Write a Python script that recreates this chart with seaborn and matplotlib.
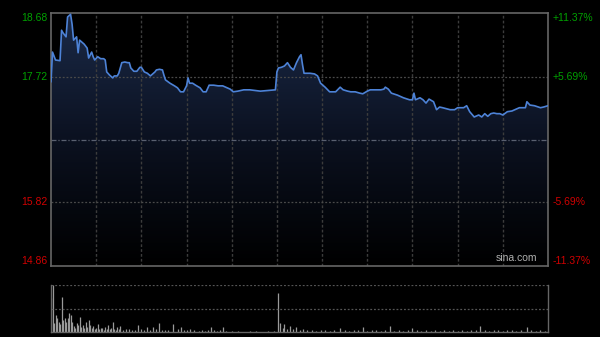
import numpy as np
import pandas as pd
import matplotlib
matplotlib.use("Agg")
import matplotlib.pyplot as plt
import seaborn as sns
from matplotlib.colors import LinearSegmentedColormap

sns.set_style("dark")
plt.rcParams['font.family'] = ['Liberation Sans', 'DejaVu Sans']

# ---- data ----
prev_close = 16.77
price_ticks = [18.68, 17.72, 15.82, 14.86]
pct_ticks = ["+11.37%", "+5.69%", "-5.69%", "-11.37%"]

minutes = [0, 1, 3, 6, 7, 8, 10, 11, 13, 14, 15, 17, 18, 19, 21, 22, 24, 25, 27, 28,
           29, 31, 33, 35, 36, 37, 39, 41, 42, 44, 45, 47, 49, 51, 52, 53, 55, 57, 59, 60,
           62, 64, 66, 68, 69, 70, 72, 74, 75, 76, 79, 82, 84, 86, 88, 90, 91, 92, 94, 96,
           99, 101, 103, 105, 108, 111, 114, 116, 119, 121, 124, 128, 132, 139, 149, 150,
           151, 153, 155, 157, 159, 161, 163, 165, 166, 167, 168, 170, 172, 175, 177, 179,
           182, 185, 189, 192, 194, 197, 199, 202, 205, 207, 210, 212, 215, 219, 221, 222,
           224, 226, 230, 234, 238, 240, 241, 242, 245, 247, 249, 251, 254, 256, 258, 260,
           265, 268, 270, 274, 276, 278, 281, 284, 286, 288, 290, 292, 294, 296, 298, 300,
           303, 306, 309, 311, 315, 316, 318, 321, 325, 327, 330]
prices = [17.64, 18.09, 17.97, 17.96, 18.42, 18.38, 18.32, 18.62, 18.66, 18.51, 18.27, 18.32, 18.08, 18.27, 18.23, 18.21, 18.15, 18.00, 18.09, 18.02,
          17.97, 18.02, 17.99, 17.99, 17.97, 17.79, 17.74, 17.70, 17.73, 17.73, 17.77, 17.93, 17.94, 17.93, 17.93, 17.85, 17.80, 17.80, 17.86, 17.86,
          17.79, 17.77, 17.73, 17.77, 17.79, 17.82, 17.83, 17.82, 17.74, 17.67, 17.62, 17.58, 17.55, 17.49, 17.49, 17.58, 17.70, 17.62, 17.62, 17.59,
          17.55, 17.49, 17.49, 17.59, 17.59, 17.58, 17.58, 17.56, 17.53, 17.49, 17.50, 17.52, 17.52, 17.50, 17.52, 17.79,
          17.85, 17.86, 17.88, 17.93, 17.86, 17.82, 17.93, 18.02, 18.05, 17.90, 17.77, 17.77, 17.77, 17.76, 17.73, 17.62,
          17.56, 17.49, 17.49, 17.56, 17.52, 17.50, 17.49, 17.49, 17.47, 17.46, 17.50, 17.52, 17.52, 17.52, 17.53, 17.56,
          17.53, 17.47, 17.44, 17.40, 17.37, 17.37, 17.47, 17.37, 17.40, 17.37, 17.32, 17.38, 17.34, 17.22, 17.26, 17.25,
          17.22, 17.22, 17.25, 17.25, 17.28, 17.19, 17.11, 17.14, 17.11, 17.16, 17.12, 17.16, 17.17, 17.16, 17.16, 17.14,
          17.19, 17.20, 17.23, 17.25, 17.25, 17.34, 17.29, 17.28, 17.25, 17.26, 17.28]

# larger volume bars
vol_minutes = [0, 1, 3, 4, 5, 7, 8, 9, 11, 12, 13, 14, 15, 17, 18, 19, 21, 23, 25, 26,
               28, 31, 33, 36, 38, 41, 44, 46, 52, 58, 64, 68, 72, 81, 86, 92, 106, 114,
               151, 152, 155, 159, 163, 167, 192, 207, 225, 240, 285, 316]
volumes = [72, 100, 36, 30, 21, 74, 26, 30, 30, 40, 36, 21, 13, 19, 15, 32, 15, 21, 26, 15,
           13, 17, 9, 11, 15, 21, 11, 13, 6, 15, 11, 11, 19, 17, 11, 6, 11, 11,
           83, 19, 17, 13, 11, 6, 9, 11, 13, 9, 13, 11]
# small background volume bars
small_vol_minutes = [2, 6, 10, 16, 20, 22, 24, 27, 29, 30, 32, 34, 35, 37, 39, 40, 42, 43, 45,
                     48, 50, 54, 56, 60, 62, 66, 70, 74, 76, 78, 84, 88, 90, 95, 98, 100, 102,
                     104, 108, 110, 112, 116, 120, 124, 128, 132, 136, 140, 144, 148,
                     154, 157, 161, 165, 170, 173, 176, 179, 182, 185, 188, 195, 198, 201,
                     204, 210, 213, 216, 219, 222, 228, 231, 234, 237, 243, 246, 249, 252,
                     255, 258, 261, 264, 267, 270, 273, 276, 279, 282, 288, 291, 294, 297,
                     300, 303, 306, 309, 312, 319, 322, 325, 328]
small_volumes = [20, 18, 22, 9, 11, 8, 10, 9, 7, 8, 6, 8, 5, 7, 6, 8, 7, 5, 6,
                 5, 6, 5, 4, 6, 5, 4, 6, 4, 5, 4, 6, 4, 5, 4, 3, 5, 3,
                 4, 5, 3, 4, 2, 2, 2, 1, 2, 2, 1, 2, 2,
                 9, 7, 6, 4, 5, 4, 3, 5, 4, 3, 4, 4, 3, 5,
                 4, 3, 5, 4, 3, 4, 3, 4, 3, 5, 4, 3, 4, 3,
                 4, 3, 4, 3, 4, 3, 4, 3, 5, 4, 4, 3, 5, 4,
                 3, 4, 4, 3, 5, 4, 3, 5, 3]

df = pd.DataFrame({"minute": minutes, "price": prices})
vdf = pd.DataFrame({"minute": vol_minutes + small_vol_minutes,
                    "volume": volumes + small_volumes})

# ---- figure ----
fig = plt.figure(figsize=(6.0, 3.37), dpi=100, facecolor="black")
ax = fig.add_axes([51/600, 1-266/337, 497/600, 253/337])
vax = fig.add_axes([51/600, 1-332/337, 497/600, 47/337])

ymin, ymax = price_ticks[-1], price_ticks[0]
for a in (ax, vax):
    a.set_facecolor("black")
    a.set_xlim(0, 330)
    a.tick_params(left=False, bottom=False, labelleft=False, labelbottom=False)
    a.grid(False)
ax.set_ylim(ymin, ymax)

# gradient fill under line
cmap = LinearSegmentedColormap.from_list("g", ["#000000", "#0b1120", "#1b2a48"])
grad = np.linspace(0, 1, 256).reshape(-1, 1)
im = ax.imshow(grad, extent=[0, 330, ymin, ymax], origin="lower", aspect="auto",
               cmap=cmap, zorder=1)
poly = ax.fill_between(df["minute"], df["price"], ymin, color="none", lw=0)
clip = poly.get_paths()[0]
im.set_clip_path(clip, transform=ax.transData)

# grid
for m in range(30, 330, 30):
    ax.axvline(m, color="#3c3c3c", lw=1, ls=(0, (2, 1.5)), zorder=2)
for v in (price_ticks[1], price_ticks[2]):
    ax.axhline(v, color="#4a4a4a", lw=0.9, ls=(0, (1.5, 1.5)), zorder=2)
ax.axhline(prev_close, color="#5a6070", lw=0.9, ls=(0, (4, 1.5, 1, 1.5)), zorder=2)

sns.lineplot(data=df, x="minute", y="price", ax=ax, color="#4d82d6", lw=1.2, zorder=3)
ax.set_xlabel("")
ax.set_ylabel("")

for s in ax.spines.values():
    s.set_visible(True)
    s.set_color("#666666")
    s.set_linewidth(1.2)

# labels
cols = ["#00a000", "#00a000", "#d00000", "#d00000"]
vas = ["top", "center", "center", "bottom"]
for v, p, c, va in zip(price_ticks, pct_ticks, cols, vas):
    ax.text(-0.008, v, f"{v:.2f}", transform=ax.get_yaxis_transform(), ha="right",
            va=va, color=c, fontsize=7.5)
    ax.text(1.01, v, p, transform=ax.get_yaxis_transform(), ha="left",
            va=va, color=c, fontsize=7.5)
ax.text(0.978, 0.012, "sina.com", transform=ax.transAxes, ha="right", va="bottom",
        color="#b0b0b0", fontsize=7.5, zorder=4)

# volume panel
vax.set_ylim(0, 100)
vax.vlines(vdf["minute"], 0, vdf["volume"], color="#9a9a9a", lw=0.9)
vax.axhline(100, color="#555555", lw=0.9, ls=(0, (1.5, 1.5)))
vax.axhline(50, color="#555555", lw=0.9, ls=(0, (1.5, 1.5)))
for k, s in vax.spines.items():
    if k == "top":
        s.set_visible(False)
    else:
        s.set_visible(True)
        s.set_color("#666666")
        s.set_linewidth(1.0)

fig.savefig("out.png", dpi=100, facecolor="black")
